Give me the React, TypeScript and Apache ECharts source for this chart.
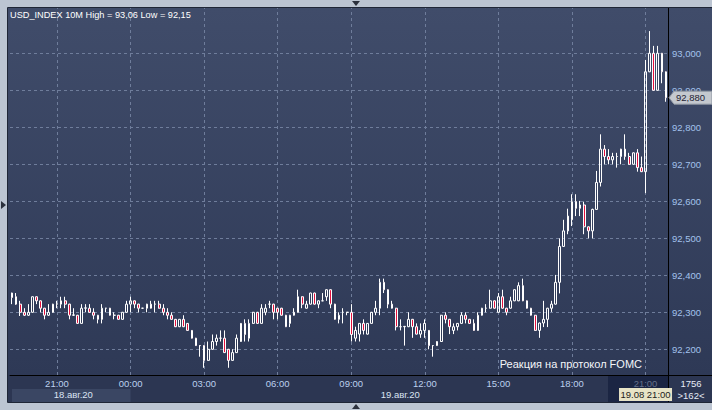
import React, { useEffect, useRef } from "react";
import * as echarts from "echarts";

// ---- data (10-minute candles, USD_INDEX, 18.08.20 19:10 .. 19.08.20 21:50) ----
const startDay = 18;
const startMinutes = 19 * 60 + 10;
const stepMinutes = 10;

const opens = [
  92.352, 92.342, 92.322, 92.300, 92.292, 92.300, 92.342, 92.331, 92.311, 92.292,
  92.300, 92.322, 92.322, 92.331, 92.322, 92.292, 92.292, 92.270, 92.311, 92.311,
  92.300, 92.292, 92.281, 92.311, 92.311, 92.292, 92.292, 92.281, 92.300, 92.322,
  92.331, 92.322, 92.311, 92.311, 92.322, 92.322, 92.322, 92.311, 92.300, 92.292,
  92.281, 92.261, 92.281, 92.270, 92.251, 92.230, 92.210, 92.210, 92.170, 92.200,
  92.221, 92.230, 92.230, 92.200, 92.170, 92.191, 92.221, 92.270, 92.230, 92.270,
  92.300, 92.270, 92.300, 92.322, 92.322, 92.311, 92.311, 92.292, 92.270, 92.292,
  92.300, 92.342, 92.311, 92.322, 92.352, 92.322, 92.331, 92.342, 92.361, 92.322,
  92.281, 92.300, 92.300, 92.300, 92.230, 92.241, 92.270, 92.241, 92.270, 92.300,
  92.311, 92.381, 92.361, 92.311, 92.311, 92.261, 92.261, 92.261, 92.281, 92.261,
  92.241, 92.251, 92.251, 92.210, 92.210, 92.221, 92.292, 92.281, 92.251, 92.261,
  92.270, 92.292, 92.281, 92.270, 92.251, 92.292, 92.311, 92.311, 92.331, 92.300,
  92.342, 92.311, 92.311, 92.331, 92.331, 92.372, 92.331, 92.311, 92.292, 92.251,
  92.271, 92.281, 92.311, 92.322, 92.381, 92.478, 92.520, 92.550, 92.599, 92.581,
  92.590, 92.531, 92.520, 92.578, 92.651, 92.741, 92.721, 92.712, 92.721, 92.721,
  92.741, 92.721, 92.700, 92.731, 92.691, 92.680, 92.950, 93.000, 92.900, 93.000,
  92.950,
];
const closes = [
  92.340, 92.322, 92.300, 92.292, 92.300, 92.342, 92.331, 92.311, 92.292, 92.300,
  92.322, 92.323, 92.331, 92.322, 92.292, 92.293, 92.270, 92.311, 92.312, 92.300,
  92.292, 92.281, 92.311, 92.311, 92.292, 92.292, 92.281, 92.300, 92.322, 92.331,
  92.322, 92.311, 92.311, 92.322, 92.311, 92.322, 92.311, 92.300, 92.292, 92.281,
  92.261, 92.281, 92.261, 92.251, 92.230, 92.210, 92.210, 92.170, 92.200, 92.221,
  92.230, 92.230, 92.191, 92.170, 92.191, 92.230, 92.270, 92.240, 92.270, 92.300,
  92.270, 92.311, 92.311, 92.322, 92.300, 92.300, 92.292, 92.261, 92.292, 92.300,
  92.342, 92.322, 92.322, 92.352, 92.322, 92.331, 92.331, 92.361, 92.322, 92.281,
  92.292, 92.300, 92.300, 92.240, 92.251, 92.270, 92.251, 92.270, 92.300, 92.311,
  92.381, 92.361, 92.322, 92.322, 92.261, 92.261, 92.262, 92.281, 92.261, 92.241,
  92.251, 92.270, 92.210, 92.210, 92.221, 92.292, 92.281, 92.261, 92.261, 92.270,
  92.292, 92.281, 92.270, 92.251, 92.292, 92.311, 92.311, 92.331, 92.311, 92.342,
  92.311, 92.300, 92.331, 92.361, 92.372, 92.331, 92.311, 92.292, 92.251, 92.271,
  92.281, 92.311, 92.322, 92.381, 92.478, 92.520, 92.560, 92.599, 92.581, 92.590,
  92.531, 92.520, 92.578, 92.651, 92.741, 92.721, 92.712, 92.721, 92.721, 92.741,
  92.721, 92.700, 92.731, 92.691, 92.680, 92.950, 93.000, 92.900, 93.000, 92.950,
  92.880,
];
const lows = [
  92.322, 92.320, 92.290, 92.290, 92.290, 92.299, 92.322, 92.300, 92.281, 92.290,
  92.299, 92.311, 92.311, 92.311, 92.281, 92.290, 92.269, 92.269, 92.300, 92.299,
  92.281, 92.270, 92.270, 92.300, 92.291, 92.281, 92.280, 92.280, 92.299, 92.300,
  92.311, 92.300, 92.310, 92.300, 92.310, 92.300, 92.310, 92.292, 92.281, 92.280,
  92.260, 92.260, 92.260, 92.250, 92.229, 92.209, 92.180, 92.150, 92.169, 92.199,
  92.210, 92.221, 92.190, 92.150, 92.169, 92.190, 92.220, 92.221, 92.221, 92.269,
  92.269, 92.269, 92.292, 92.311, 92.281, 92.281, 92.291, 92.260, 92.260, 92.291,
  92.299, 92.311, 92.310, 92.321, 92.321, 92.311, 92.330, 92.331, 92.311, 92.280,
  92.270, 92.270, 92.292, 92.221, 92.221, 92.221, 92.240, 92.240, 92.269, 92.292,
  92.292, 92.352, 92.311, 92.310, 92.251, 92.251, 92.210, 92.260, 92.231, 92.240,
  92.231, 92.231, 92.200, 92.180, 92.209, 92.220, 92.270, 92.241, 92.241, 92.251,
  92.269, 92.270, 92.269, 92.250, 92.250, 92.291, 92.300, 92.310, 92.310, 92.299,
  92.310, 92.292, 92.310, 92.330, 92.330, 92.330, 92.310, 92.291, 92.250, 92.231,
  92.260, 92.260, 92.301, 92.321, 92.351, 92.477, 92.511, 92.533, 92.560, 92.560,
  92.511, 92.500, 92.500, 92.577, 92.640, 92.700, 92.700, 92.700, 92.691, 92.700,
  92.712, 92.699, 92.699, 92.680, 92.679, 92.622, 92.949, 92.899, 92.899, 92.919,
  92.869,
];
const highs = [
  92.353, 92.352, 92.331, 92.311, 92.322, 92.343, 92.343, 92.332, 92.312, 92.322,
  92.323, 92.331, 92.342, 92.342, 92.323, 92.311, 92.293, 92.322, 92.322, 92.322,
  92.311, 92.293, 92.322, 92.312, 92.312, 92.300, 92.293, 92.301, 92.331, 92.342,
  92.332, 92.323, 92.312, 92.323, 92.331, 92.331, 92.331, 92.322, 92.311, 92.300,
  92.282, 92.282, 92.292, 92.271, 92.252, 92.231, 92.211, 92.211, 92.221, 92.240,
  92.240, 92.251, 92.251, 92.201, 92.200, 92.240, 92.271, 92.281, 92.281, 92.301,
  92.301, 92.322, 92.322, 92.331, 92.323, 92.312, 92.312, 92.293, 92.293, 92.311,
  92.361, 92.343, 92.331, 92.353, 92.353, 92.332, 92.352, 92.362, 92.362, 92.323,
  92.300, 92.311, 92.301, 92.322, 92.261, 92.271, 92.281, 92.271, 92.301, 92.331,
  92.391, 92.391, 92.362, 92.331, 92.312, 92.281, 92.263, 92.300, 92.282, 92.270,
  92.270, 92.281, 92.252, 92.211, 92.222, 92.293, 92.300, 92.282, 92.270, 92.271,
  92.300, 92.300, 92.282, 92.281, 92.300, 92.312, 92.322, 92.361, 92.332, 92.352,
  92.361, 92.312, 92.342, 92.362, 92.381, 92.391, 92.332, 92.312, 92.293, 92.272,
  92.331, 92.312, 92.331, 92.401, 92.500, 92.550, 92.580, 92.619, 92.619, 92.601,
  92.599, 92.532, 92.580, 92.682, 92.781, 92.752, 92.741, 92.731, 92.731, 92.742,
  92.781, 92.731, 92.732, 92.741, 92.721, 92.982, 93.060, 93.020, 93.020, 93.001,
  92.951,
];

const priceGridValues = [92.2, 92.3, 92.4, 92.5, 92.6, 92.7, 92.8, 92.9, 93.0];
const yMin = 92.1305;
const yMax = 93.1224;
const firstTickIndex = 11; // 18.08 21:00
const tickStep = 18; // every 3 hours
const dateLabels = ["18.авг.20", "19.авг.20"];
const dateLabelIndexes = [15, 95];
const dateBandEndIndex = 29; // 19.08 00:00
const cursorIndex = 155; // 19.08 21:00
const symbolName = "USD_INDEX";
const timeframe = "10M";
const annotation = "Реакция на протокол FOMC";
const cornerTexts = ["1756", ">162<"];

const pad = (n: number) => (n < 10 ? "0" + n : "" + n);
const categories = opens.map((_, i) => {
  const m = startMinutes + i * stepMinutes;
  const day = startDay + Math.floor(m / 1440);
  const mm = m % 1440;
  return `${day}.08 ${pad(Math.floor(mm / 60))}:${pad(mm % 60)}`;
});
const tickIndexes = categories
  .map((_, i) => i)
  .filter((i) => i >= firstTickIndex && (i - firstTickIndex) % tickStep === 0);

const fmt = (v: number, d: number) => v.toFixed(d).replace(".", ",");
const FONT = "Liberation Sans, Arial, sans-serif";

export default function App() {
  const ref = useRef<HTMLDivElement>(null);
  useEffect(() => {
    document.body.style.margin = "0";
    if (!ref.current) return;
    const chart = echarts.init(ref.current, null, { renderer: "svg" });
    const candleData = opens.map((o, i) => [o, closes[i], lows[i], highs[i]]);
    const option: any = {
      animation: false,
      backgroundColor: "#bcc5d2",
      textStyle: { fontFamily: FONT },
      grid: { left: 10, top: 8, right: 44, bottom: 35 },
      xAxis: [
        {
          type: "category",
          data: categories,
          position: "bottom",
          axisLine: { show: true, lineStyle: { color: "#000000", width: 1 } },
          axisTick: { show: false },
          splitLine: { show: false },
          axisLabel: {
            interval: (i: number) => tickIndexes.includes(i),
            formatter: (v: string) => v.split(" ")[1],
            color: (v: string) => (v === categories[cursorIndex] ? "#66718c" : "#bcd0ee"),
            fontSize: 9.5,
            fontFamily: FONT,
            margin: 3,
          },
        },
        {
          type: "category",
          data: categories,
          position: "bottom",
          offset: 11.5,
          axisLine: { show: false },
          axisTick: { show: false },
          splitLine: { show: false },
          axisLabel: {
            interval: (i: number) => dateLabelIndexes.includes(i),
            formatter: (v: string) => dateLabels[dateLabelIndexes.indexOf(categories.indexOf(v))] || "",
            color: "#dbe4f3",
            fontSize: 9.5,
            fontFamily: FONT,
            margin: 3,
          },
        },
      ],
      yAxis: {
        type: "value",
        position: "right",
        min: yMin,
        max: yMax,
        splitNumber: 10,
        axisLine: { show: true, lineStyle: { color: "#000000", width: 1 } },
        axisTick: { show: false },
        splitLine: { show: false },
        axisLabel: {
          formatter: (v: number) =>
            priceGridValues.some((g) => Math.abs(g - v) < 1e-6) ? fmt(v, 3) : "",
          color: "#a3c2ec",
          fontSize: 9.5,
          fontFamily: FONT,
          margin: 4,
        },
      },
      series: [
        {
          type: "candlestick",
          data: candleData,
          barWidth: 2.2,
          itemStyle: {
            color: "rgba(0,0,0,0)",
            color0: "#e3103d",
            borderColor: "#ffffff",
            borderColor0: "#ffffff",
            borderColorDoji: "#ffffff",
            borderWidth: 1,
          },
          emphasis: { disabled: true },
          markLine: {
            silent: true,
            z: 1,
            symbol: ["none", "none"],
            label: { show: false },
            emphasis: { disabled: true },
            lineStyle: { color: "#6f7d9b", type: [3, 3], width: 1 },
            data: [
              ...priceGridValues.map((v) => ({ yAxis: v })),
              ...tickIndexes.map((i) => ({ xAxis: categories[i] })),
            ],
          },
        },
      ],
    };
    chart.setOption(option);

    const last = closes.length - 1;
    const py = chart.convertToPixel({ yAxisIndex: 0 }, closes[last]) as number;
    const cx = chart.convertToPixel({ xAxisIndex: 0 }, cursorIndex) as number;
    const bandEnd = chart.convertToPixel({ xAxisIndex: 0 }, dateBandEndIndex) as number;
    const hi = Math.max(...highs);
    const lo = Math.min(...lows);
    const title = `${symbolName} ${timeframe} High = ${fmt(hi, 2)} Low = ${fmt(lo, 2)}`;
    const txt = (text: string, x: number, y: number, fill: string, size: number, align = "left", z = 10) => ({
      type: "text",
      z,
      silent: true,
      style: { text, x, y, fill, font: `${size}px ${FONT}`, align, verticalAlign: "middle" },
    });

    chart.setOption({
      graphic: [
        {
          type: "rect",
          z: -10,
          silent: true,
          shape: { x: 8, y: 8, width: 704, height: 367 },
          style: {
            fill: new echarts.graphic.LinearGradient(0, 0, 0, 1, [
              { offset: 0, color: "#404c6a" },
              { offset: 1, color: "#2e3956" },
            ]),
          },
        },
        {
          type: "rect",
          z: -9,
          silent: true,
          shape: { x: 8, y: 375, width: 704, height: 27 },
          style: { fill: "#2c3652" },
        },
        {
          type: "rect",
          z: -8,
          silent: true,
          shape: { x: 12, y: 389, width: bandEnd - 12, height: 13 },
          style: { fill: "#3a4663" },
        },
        {
          type: "rect",
          z: -8,
          silent: true,
          shape: { x: cx - 37.5, y: 376, width: 668 - (cx - 37.5), height: 26 },
          style: { fill: "#1b2543" },
        },
        {
          type: "rect",
          z: 12,
          silent: true,
          shape: { x: 7.5, y: 7.5, width: 705, height: 395 },
          style: { fill: "none", stroke: "#1f2636", lineWidth: 1 },
        },
        {
          type: "line",
          z: 12,
          silent: true,
          shape: { x1: 668, y1: 375.5, x2: 712, y2: 375.5 },
          style: { stroke: "#000000", lineWidth: 1 },
        },
        {
          type: "line",
          z: 12,
          silent: true,
          shape: { x1: 668.5, y1: 375, x2: 668.5, y2: 402 },
          style: { stroke: "#000000", lineWidth: 1 },
        },
        // cursor time tag
        {
          type: "rect",
          z: 13,
          silent: true,
          shape: { x: cx - 26.5, y: 388, width: 53, height: 13 },
          style: { fill: "#e7e3c6" },
        },
        txt(categories[cursorIndex], cx, 394.5, "#1c1c1c", 9.5, "center", 14),
        // last price tag
        {
          type: "polygon",
          z: 13,
          silent: true,
          shape: {
            points: [
              [669, py],
              [674, py - 6.5],
              [712, py - 6.5],
              [712, py + 6.5],
              [674, py + 6.5],
            ],
          },
          style: { fill: "#c4c8ce", stroke: "#8f96a2", lineWidth: 1 },
        },
        txt(fmt(closes[last], 3), 676, py, "#1e2233", 9.5, "left", 14),
        // corner counters
        txt(cornerTexts[0], 691, 383, "#e6ecf6", 9.5, "center"),
        txt(cornerTexts[1], 691, 395.5, "#e6ecf6", 9.5, "center"),
        // title and annotation
        txt(title, 10, 15, "#ffffff", 9.2, "left"),
        txt(annotation, 642, 364, "#f4f6fa", 11, "right"),
        // frame arrows
        {
          type: "polygon",
          z: 13,
          silent: true,
          shape: { points: [[352, 1], [360, 1], [356, 6]] },
          style: { fill: "#2b303c" },
        },
        {
          type: "polygon",
          z: 13,
          silent: true,
          shape: { points: [[1, 201], [1, 209], [6, 205]] },
          style: { fill: "#2b303c" },
        },
        {
          type: "polygon",
          z: 13,
          silent: true,
          shape: { points: [[352, 409], [360, 409], [356, 404]] },
          style: { fill: "#2b303c" },
        },
      ],
    });

    return () => chart.dispose();
  }, []);
  return <div ref={ref} style={{ width: 712, height: 410 }} />;
}
